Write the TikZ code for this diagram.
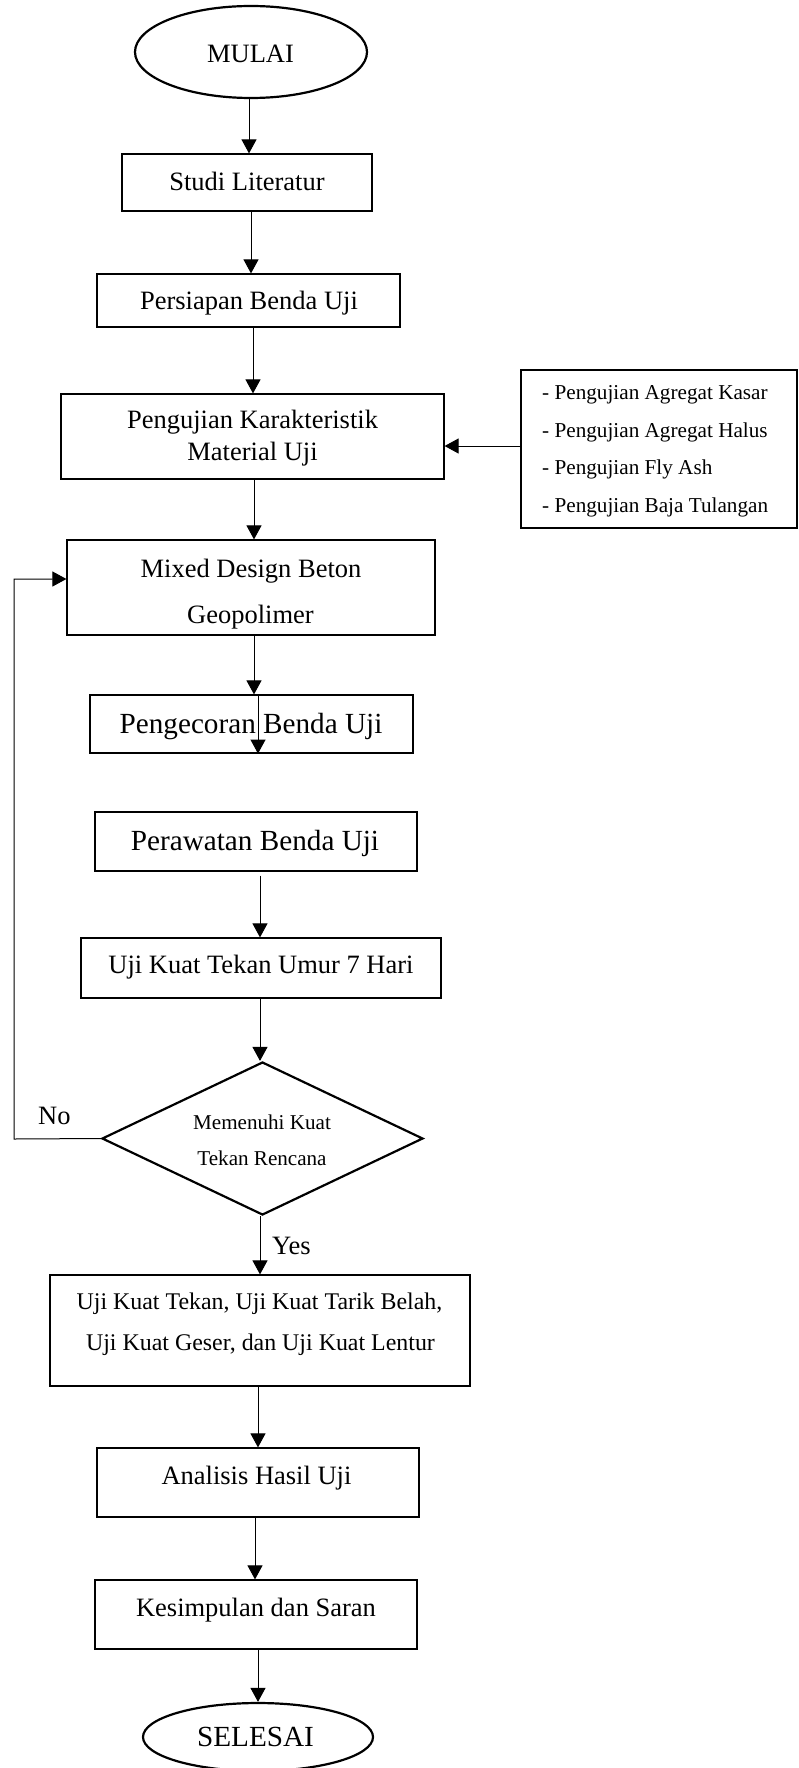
\documentclass[tikz,border=0pt]{standalone}
\usepackage{fontspec}
\setmainfont{Liberation Serif}
\usetikzlibrary{arrows.meta,shapes.geometric}
\begin{document}
\begin{tikzpicture}[x=1pt,y=-1pt,
  box/.style={draw, line width=1.2pt, inner sep=0pt, rectangle},
  term/.style={draw, ellipse, line width=2.2pt, inner sep=0pt},
  arr/.style={line width=1pt, -{Triangle[width=15pt,length=14pt]}},
  fa/.style={font=\fontsize{26.5}{32}\selectfont, anchor=base, inner sep=0pt},
  fb/.style={font=\fontsize{29.2}{35}\selectfont, anchor=base, inner sep=0pt},
  fs/.style={font=\fontsize{21.2}{25}\selectfont, anchor=base west, inner sep=0pt},
  fd/.style={font=\fontsize{21.1}{25}\selectfont, anchor=base, inner sep=0pt},
  fc/.style={font=\fontsize{23.9}{29}\selectfont, anchor=base, inner sep=0pt},
]
\useasboundingbox (0,0) rectangle (798,1768);

% shapes
\node[term, minimum width=232pt, minimum height=92pt] (mulai) at (251,52) {};
\node[box, minimum width=250pt, minimum height=57pt] (lit) at (247,182.5) {};
\node[box, minimum width=303pt, minimum height=53pt] (prep) at (248.5,300.5) {};
\node[box, minimum width=383pt, minimum height=85pt] (kar) at (252.5,436.5) {};
\node[box, minimum width=276pt, minimum height=158pt] (side) at (659,449) {};
\node[box, minimum width=368pt, minimum height=95pt] (mix) at (251,587.5) {};
\node[box, minimum width=323pt, minimum height=58pt] (cor) at (251.5,724) {};
\node[box, minimum width=322pt, minimum height=59pt] (raw) at (256,841.5) {};
\node[box, minimum width=360pt, minimum height=60pt] (u7) at (261,968) {};
\node[draw, diamond, line width=2.2pt, inner sep=0pt, minimum width=321pt, minimum height=153pt] (dia) at (262.5,1138.5) {};
\node[box, minimum width=420pt, minimum height=111pt] (big) at (260,1330.5) {};
\node[box, minimum width=322pt, minimum height=69pt] (ana) at (258,1482.5) {};
\node[box, minimum width=322pt, minimum height=69pt] (kes) at (256,1614.5) {};
\node[term, minimum width=230pt, minimum height=68pt] (sel) at (258,1737) {};

% texts
\node[fa] (tmulai) at (250.5,63) {MULAI};
\node[fa] (tlit) at (247,191) {Studi Literatur};
\node[fa] (tprep) at (249,309) {Persiapan Benda Uji};
\node[fa] (tkar1) at (252.5,428) {Pengujian Karakteristik};
\node[fa] (tkar2) at (252.5,460) {Material Uji};
\node[fs] (ts1) at (542,399) {- Pengujian Agregat Kasar};
\node[fs] (ts2) at (542,437) {- Pengujian Agregat Halus};
\node[fs] (ts3) at (542,474.5) {- Pengujian Fly Ash};
\node[fs] (ts4) at (542,512) {- Pengujian Baja Tulangan};
\node[fa] (tmix1) at (251,577) {Mixed Design Beton};
\node[fa] (tmix2) at (250.5,623) {Geopolimer};
\node[fb] (tcor) at (251,733) {Pengecoran Benda Uji};
\node[fb] (traw) at (255,850) {Perawatan Benda Uji};
\node[fa] (tu7) at (261,973) {Uji Kuat Tekan Umur 7 Hari};
\node[fd] (tdia1) at (262,1129) {Memenuhi Kuat};
\node[fd] (tdia2) at (262,1165) {Tekan Rencana};
\node[fa, anchor=base west] (tno) at (38,1124) {No};
\node[fa, anchor=base west] (tyes) at (272,1254) {Yes};
\node[fc] (tbig1) at (259.5,1309) {Uji Kuat Tekan, Uji Kuat Tarik Belah,};
\node[fc] (tbig2) at (260.5,1350) {Uji Kuat Geser, dan Uji Kuat Lentur};
\node[fa] (tana) at (256.5,1484) {Analisis Hasil Uji};
\node[fa] (tkes) at (256,1616) {Kesimpulan dan Saran};
\node[fb] (tsel) at (255.5,1746) {SELESAI};

% connectors
\draw[arr] ([xshift=-2pt]mulai.south) -- ([xshift=-2pt]mulai.south |- lit.north);
\draw[arr] ([xshift=4pt]lit.south) -- ([xshift=4pt]lit.south |- prep.north);
\draw[arr] ([xshift=4.5pt]prep.south) -- ([xshift=4.5pt]prep.south |- kar.north);
\draw[arr] ([yshift=3pt]side.west) -- ([yshift=3pt]side.west -| kar.east);
\draw[arr] ([xshift=1.5pt]kar.south) -- ([xshift=1.5pt]kar.south |- mix.north);
\draw[arr] ([xshift=3pt]mix.south) -- ([xshift=3pt]mix.south |- cor.north);
\draw[arr] ([xshift=6.5pt]cor.north) -- ([xshift=6.5pt]cor.south);
\draw[arr] ([xshift=4pt,yshift=-4pt]raw.south) -- ([xshift=4pt]raw.south |- u7.north);
\draw[arr] ([xshift=-1pt]u7.south) -- ([xshift=-1pt]u7.south |- dia.north);
\draw[arr] ([xshift=-2.5pt]dia.south) -- ([xshift=-2.5pt]dia.south |- big.north);
\coordinate (fb) at (14,1139);
\draw[arr] (dia.west) -- (fb) |- ([yshift=8.5pt]mix.west);
\draw[arr] ([xshift=-2pt]big.south) -- ([xshift=-2pt]big.south |- ana.north);
\draw[arr] ([xshift=-3pt]ana.south) -- ([xshift=-3pt]ana.south |- kes.north);
\draw[arr] ([xshift=2pt]kes.south) -- ([xshift=2pt]kes.south |- sel.north);
\end{tikzpicture}
\end{document}
